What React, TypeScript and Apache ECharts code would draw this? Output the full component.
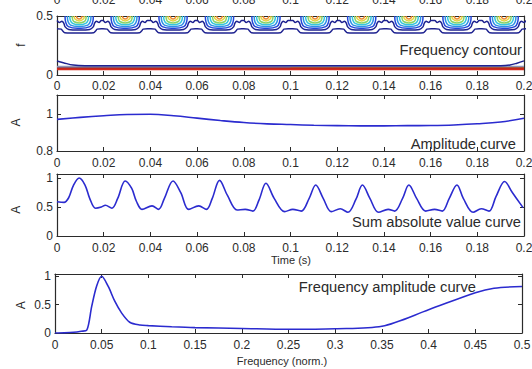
import React, { useEffect, useRef } from "react";
import * as echarts from "echarts";

// ---------- Panel 1: frequency contour ----------
const contourPeakTimes = [0.0095, 0.0292, 0.0497, 0.0696, 0.0895, 0.1105, 0.1305, 0.1507, 0.1713, 0.1915];
// nested contour rings around each peak, [time offset, f], outermost first
const contourLevelShapes: number[][][] = [
  [[-0.006, 0.5], [-0.0058, 0.45], [-0.0046, 0.41], [0, 0.396], [0.0046, 0.41], [0.0058, 0.45], [0.006, 0.5]],
  [[-0.005, 0.5], [-0.0048, 0.455], [-0.0037, 0.423], [0, 0.411], [0.0037, 0.423], [0.0048, 0.455], [0.005, 0.5]],
  [[-0.004, 0.5], [-0.0038, 0.465], [-0.0028, 0.438], [0, 0.426], [0.0028, 0.438], [0.0038, 0.465], [0.004, 0.5]],
  [[-0.003, 0.5], [-0.0028, 0.47], [-0.0021, 0.451], [0, 0.441], [0.0021, 0.451], [0.0028, 0.47], [0.003, 0.5]],
  [[-0.0021, 0.5], [-0.0019, 0.477], [0, 0.458], [0.0019, 0.477], [0.0021, 0.5]],
  [[-0.0012, 0.5], [-0.001, 0.486], [0, 0.475], [0.001, 0.486], [0.0012, 0.5]],
];
const upperWaveShape = [
  [-0.0095, 0.462], [-0.0085, 0.445], [-0.0074, 0.456], [-0.0066, 0.44], [-0.0061, 0.41],
  [-0.0045, 0.386], [0, 0.381], [0.0045, 0.386], [0.0061, 0.41], [0.0066, 0.44],
  [0.0074, 0.456], [0.0085, 0.445], [0.0095, 0.462],
];
const lowerWaveShape = [
  [-0.0095, 0.392], [-0.0077, 0.389], [-0.007, 0.372], [-0.0062, 0.358], [0, 0.355],
  [0.0062, 0.358], [0.007, 0.372], [0.0077, 0.389], [0.0095, 0.392],
];
const lowNavyLine = [[0, 0.118], [0.0027, 0.104], [0.007, 0.084], [0.012, 0.079], [0.19, 0.079], [0.194, 0.085], [0.197, 0.1], [0.2, 0.12]];
const lowGrayLine = [[0, 0.068], [0.2, 0.068]];
const lowOrangeLine = [[0.1, 0.062], [0.2, 0.062]];
const lowDarkRedLine = [[0, 0.057], [0.2, 0.057]];
const lowRedLine = [[0, 0.048], [0.2, 0.048]];

// ---------- Panel 2: amplitude curve ----------
const ampTime = [0, 0.01, 0.02, 0.03, 0.04, 0.05, 0.06, 0.07, 0.08, 0.09, 0.1, 0.11, 0.12, 0.13, 0.14, 0.15, 0.16, 0.17, 0.18, 0.19, 0.2];
const ampValue = [0.972, 0.983, 0.992, 0.999, 1.0, 0.992, 0.979, 0.966, 0.955, 0.948, 0.944, 0.94, 0.938, 0.937, 0.937, 0.938, 0.939, 0.942, 0.948, 0.958, 0.978];

// ---------- Panel 3: sum absolute value curve ----------
const sumTime = [
  0, 0.003, 0.005, 0.007, 0.0095, 0.012, 0.014, 0.0165, 0.019, 0.0207, 0.0235, 0.026, 0.0292, 0.032, 0.034,
  0.0364, 0.0407, 0.0435, 0.046, 0.0497, 0.053, 0.0564, 0.0607, 0.064, 0.0665, 0.0696, 0.073, 0.0771, 0.0806,
  0.0839, 0.0865, 0.0895, 0.093, 0.0975, 0.101, 0.1046, 0.108, 0.1108, 0.114, 0.1175, 0.1213, 0.1246, 0.128,
  0.1308, 0.134, 0.1377, 0.1418, 0.1446, 0.148, 0.1507, 0.154, 0.1579, 0.1617, 0.165, 0.168, 0.1713, 0.174,
  0.1782, 0.1817, 0.185, 0.188, 0.1917, 0.195, 0.1996,
];
const sumValue = [
  0.59, 0.58, 0.66, 0.87, 1.0, 0.88, 0.65, 0.48, 0.5, 0.53, 0.48, 0.65, 0.95, 0.82, 0.6,
  0.46, 0.52, 0.46, 0.65, 0.95, 0.75, 0.46, 0.52, 0.46, 0.65, 0.96, 0.7, 0.45, 0.46,
  0.43, 0.62, 0.91, 0.65, 0.42, 0.46, 0.43, 0.65, 0.88, 0.65, 0.42, 0.47, 0.41, 0.63,
  0.88, 0.65, 0.41, 0.46, 0.43, 0.65, 0.88, 0.65, 0.43, 0.46, 0.43, 0.65, 0.88, 0.65,
  0.41, 0.47, 0.43, 0.68, 0.94, 0.75, 0.49,
];

// ---------- Panel 4: frequency amplitude curve ----------
const freqNorm = [0, 0.01, 0.02, 0.028, 0.034, 0.0393, 0.0446, 0.05, 0.057, 0.064, 0.0714, 0.08, 0.091, 0.1, 0.125, 0.15, 0.2, 0.25, 0.3, 0.35, 0.4, 0.45, 0.47, 0.5];
const freqAmp = [0, 0.003, 0.012, 0.03, 0.05, 0.47, 0.83, 1.0, 0.82, 0.56, 0.35, 0.19, 0.14, 0.13, 0.11, 0.095, 0.08, 0.065, 0.075, 0.12, 0.41, 0.71, 0.79, 0.82];

// ---------- styles ----------
const contourLevelColors = ["#2346d8", "#2d8fe6", "#36c6dc", "#86d36e", "#e6d43c", "#ee8a30"];
const axisColor = "#2b2b2b";
const textColor = "#2b2b2b";
const curveColor = "#2b2bcf";
const font = "'Liberation Sans', Arial, Helvetica, sans-serif";

const zip = (xs: number[], ys: number[]) => xs.map((x, i) => [x, ys[i]]);

function tickFmt(min: number, interval: number) {
  return (v: number) => {
    const k = Math.round((v - min) / interval);
    if (Math.abs(v - (min + k * interval)) > 1e-9) return "";
    return String(+v.toFixed(3));
  };
}

function xAxis(grid: number, position: string, min: number, max: number, interval: number, showLabel: boolean, margin: number) {
  return {
    type: "value",
    gridIndex: grid,
    position,
    min,
    max,
    interval,
    axisLine: { show: true, onZero: false, lineStyle: { color: axisColor, width: 1.2 } },
    axisTick: { show: true, inside: true, length: 4, lineStyle: { color: axisColor, width: 1 } },
    axisLabel: { show: showLabel, margin, fontSize: 12, color: textColor, fontFamily: font, formatter: tickFmt(min, interval), hideOverlap: false },
    splitLine: { show: false },
  };
}

function yAxis(grid: number, position: string, min: number, max: number, interval: number, showLabel: boolean) {
  return {
    type: "value",
    gridIndex: grid,
    position,
    min,
    max,
    interval,
    axisLine: { show: true, onZero: false, lineStyle: { color: axisColor, width: 1.2 } },
    axisTick: { show: true, inside: true, length: 4, lineStyle: { color: axisColor, width: 1 } },
    axisLabel: { show: showLabel, margin: 4, fontSize: 12, color: textColor, fontFamily: font, formatter: tickFmt(min, interval) },
    splitLine: { show: false },
  };
}

function simpleLine(data: number[][], color: string, width: number, xi: number, smooth: number | boolean = false, opacity = 1) {
  return {
    type: "line",
    xAxisIndex: xi,
    yAxisIndex: xi,
    data,
    symbol: "none",
    smooth,
    lineStyle: { color, width, opacity },
    silent: true,
  };
}

const waveData = (shape: number[][]) => contourPeakTimes.flatMap((c) => shape.map(([dx, f]) => [c + dx, f]));

const gridBase = { containLabel: false, outerBoundsMode: "none" };

export default function App() {
  const ref = useRef<HTMLDivElement>(null);
  useEffect(() => {
    if (!ref.current) return;
    const chart = echarts.init(ref.current, undefined, { renderer: "svg" });
    const yName = (text: string, x: number, y: number) => ({
      type: "text",
      x,
      y,
      rotation: Math.PI / 2,
      style: { text, fontSize: 12, fontFamily: font, fill: textColor, textAlign: "center", align: "center", textVerticalAlign: "middle", verticalAlign: "middle" },
    });
    const label = (text: string, x: number, y: number, align: string, size: number) => ({
      type: "text",
      x,
      y,
      style: { text, fontSize: size, fontFamily: font, fill: textColor, textAlign: align, align, textVerticalAlign: "middle", verticalAlign: "middle" },
    });
    chart.setOption({
      animation: false,
      backgroundColor: "#ffffff",
      grid: [
        { ...gridBase, left: 57, top: 16, width: 467, height: 59 },
        { ...gridBase, left: 57, top: 95, width: 467, height: 56 },
        { ...gridBase, left: 57, top: 174, width: 467, height: 62 },
        { ...gridBase, left: 55, top: 274, width: 467, height: 59 },
      ],
      xAxis: [
        xAxis(0, "bottom", 0, 0.2, 0.02, true, 5),
        xAxis(0, "top", 0, 0.2, 0.02, true, 10),
        xAxis(1, "bottom", 0, 0.2, 0.02, true, 6),
        xAxis(1, "top", 0, 0.2, 0.02, false, 6),
        xAxis(2, "bottom", 0, 0.2, 0.02, true, 6),
        xAxis(2, "top", 0, 0.2, 0.02, false, 6),
        xAxis(3, "bottom", 0, 0.5, 0.05, true, 6),
        xAxis(3, "top", 0, 0.5, 0.05, false, 6),
      ],
      yAxis: [
        yAxis(0, "left", 0, 0.5, 0.5, true),
        yAxis(0, "right", 0, 0.5, 0.5, false),
        yAxis(1, "left", 0.8, 1.105, 0.2, true),
        yAxis(1, "right", 0.8, 1.105, 0.2, false),
        yAxis(2, "left", 0, 1.07, 0.5, true),
        yAxis(2, "right", 0, 1.07, 0.5, false),
        yAxis(3, "left", 0, 1.04, 0.5, true),
        yAxis(3, "right", 0, 1.04, 0.5, false),
      ],
      series: [
        simpleLine(lowGrayLine, "#8d93b8", 2.5, 0),
        simpleLine(lowOrangeLine, "#d98a3a", 1.5, 0, false, 0.8),
        simpleLine(lowDarkRedLine, "#8a1c1c", 1.6, 0),
        simpleLine(lowRedLine, "#d42a1e", 2, 0),
        simpleLine(lowNavyLine, "#1e2290", 1.5, 0, 0.4),
        simpleLine(waveData(lowerWaveShape), "#1e2290", 1.5, 0, 0.3),
        simpleLine(waveData(upperWaveShape), "#1e2290", 1.5, 0, 0.3),
        {
          type: "custom",
          xAxisIndex: 0,
          yAxisIndex: 0,
          clip: true,
          silent: true,
          data: contourPeakTimes.map((c) => [c, 0.5]),
          encode: { x: 0, y: 1 },
          renderItem: (_params: any, api: any) => {
            const c = api.value(0);
            return {
              type: "group",
              children: contourLevelShapes.map((shape, i) => ({
                type: "polyline",
                shape: { points: shape.map(([dx, f]) => api.coord([c + dx, f])), smooth: 0.45 },
                style: { stroke: contourLevelColors[i], lineWidth: 1.5, fill: "none" },
              })),
            };
          },
        },
        simpleLine(zip(ampTime, ampValue), curveColor, 1.6, 2, 0.4),
        simpleLine(zip(sumTime, sumValue), curveColor, 1.6, 4, 0.35),
        simpleLine(zip(freqNorm, freqAmp), curveColor, 1.6, 6, 0.3),
      ],
      graphic: [
        label("Frequency contour", 522, 50, "right", 14.7),
        label("Amplitude curve", 516, 143.5, "right", 14.7),
        label("Sum absolute value curve", 521, 221.7, "right", 14.7),
        label("Frequency amplitude curve", 476, 286.7, "right", 14.7),
        label("Time (s)", 291, 260, "center", 11),
        label("Frequency (norm.)", 282, 361, "center", 11),
        yName("f", 21, 45),
        yName("A", 15.5, 122.5),
        yName("A", 15.5, 209.7),
        yName("A", 20.8, 305.3),
      ],
    });
    return () => chart.dispose();
  }, []);
  return <div ref={ref} style={{ position: "absolute", left: 0, top: 0, width: 532, height: 369 }} />;
}
